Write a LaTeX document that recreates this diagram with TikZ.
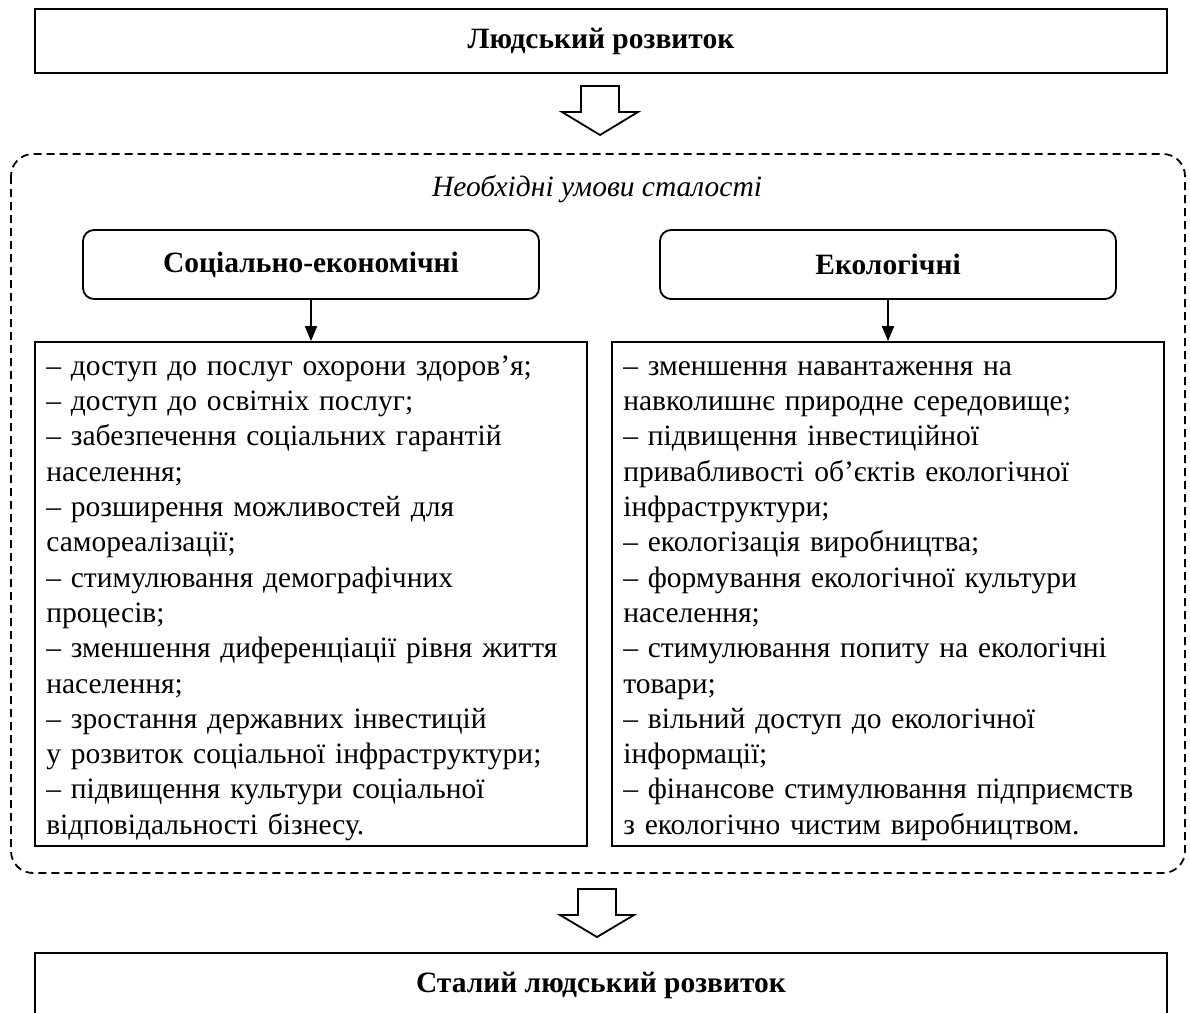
\documentclass[tikz,border=0pt]{standalone}
\usepackage{fontspec}
\setmainfont{Liberation Serif}
\usetikzlibrary{arrows.meta,calc}
\newcommand\myfs{\fontsize{29.5pt}{35.3pt}\selectfont}
\newcommand\firstln{\rule{0pt}{28pt}}
\begin{document}
\begin{tikzpicture}[x=1pt,y=-1pt,
  box/.style={draw,line width=1.8pt,inner sep=0pt,font=\myfs\bfseries},
  rbox/.style={draw,line width=1.8pt,rounded corners=11pt,inner sep=0pt,minimum width=456pt,minimum height=69pt,font=\myfs\bfseries},
  listbox/.style={draw,line width=1.8pt,inner sep=0pt,minimum width=552pt,minimum height=504pt},
  listtext/.style={inner sep=0pt,text width=545pt,align=left,font=\myfs,anchor=north west},
  conn/.style={line width=1.8pt,-{Triangle[width=12pt,length=15pt]}},
  hollow/.style={draw,line width=1.8pt,fill=white,line join=miter},
  dashbox/.style={draw,line width=1.8pt,dash pattern=on 8pt off 5pt,rounded corners=22pt}]
\clip (0,0) rectangle (1190,1012);
\fill[white] (0,0) rectangle (1190,1012);
% dashed container
\draw[dashbox] (11,154) rectangle (1185,873);
\node[font=\myfs\itshape] (title) at (597,189) {Необхідні умови сталості};
% top and bottom boxes
\node[box,minimum width=1132pt,minimum height=64pt] (top) at (601,41) {Людський розвиток};
\node[box,minimum width=1132pt,minimum height=64pt] (bottom) at (601,985) {Сталий людський розвиток};
% hollow arrows
\coordinate (a1) at (600,86);
\draw[hollow] ($(a1)+(-19,0)$) -- ($(a1)+(19,0)$) -- ($(a1)+(19,26)$) -- ($(a1)+(38,26)$) -- ($(a1)+(0,49)$) -- ($(a1)+(-38,26)$) -- ($(a1)+(-19,26)$) -- cycle;
\coordinate (a2) at (597,889);
\draw[hollow] ($(a2)+(-19,0)$) -- ($(a2)+(19,0)$) -- ($(a2)+(19,26)$) -- ($(a2)+(37,26)$) -- ($(a2)+(0,48)$) -- ($(a2)+(-37,26)$) -- ($(a2)+(-19,26)$) -- cycle;
% rounded boxes
\node[rbox] (soc) at (311,264.5) {Соціально-економічні};
\node[rbox] (eco) at (888,264.5) {Екологічні};
% list boxes
\node[listbox] (lleft) at (311,594) {};
\node[listbox] (lright) at (888,594) {};
\draw[conn] (soc.south) -- (soc.south |- lleft.north);
\draw[conn] (eco.south) -- (eco.south |- lright.north);
\node[listtext] (tleft) at ($(lleft.north west)+(12,6)$) {%
\firstln– доступ до послуг охорони здоров’я;\\
– доступ до освітніх послуг;\\
– забезпечення соціальних гарантій\\
населення;\\
– розширення можливостей для\\
самореалізації;\\
– стимулювання демографічних\\
процесів;\\
– зменшення диференціації рівня життя\\
населення;\\
– зростання державних інвестицій\\
у розвиток соціальної інфраструктури;\\
– підвищення культури соціальної\\
відповідальності бізнесу.};
\node[listtext] (tright) at ($(lright.north west)+(12,6)$) {%
\firstln– зменшення навантаження на\\
навколишнє природне середовище;\\
– підвищення інвестиційної\\
привабливості об’єктів екологічної\\
інфраструктури;\\
– екологізація виробництва;\\
– формування екологічної культури\\
населення;\\
– стимулювання попиту на екологічні\\
товари;\\
– вільний доступ до екологічної\\
інформації;\\
– фінансове стимулювання підприємств\\
з екологічно чистим виробництвом.};
\end{tikzpicture}
\end{document}
